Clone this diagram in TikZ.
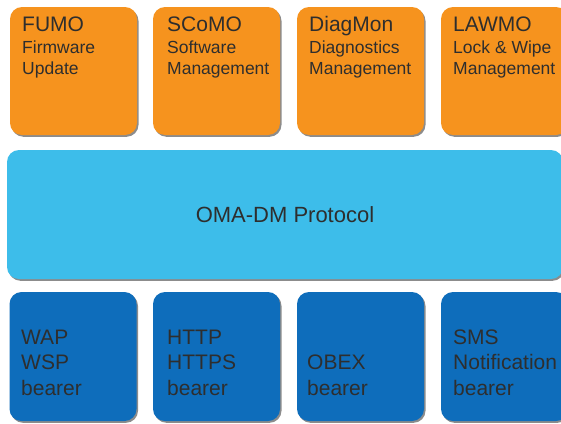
\documentclass[tikz,border=0pt]{standalone}
\usepackage{fontspec}
\setmainfont{Liberation Sans}
\usetikzlibrary{shadows}

\definecolor{modorange}{HTML}{F6931E}
\definecolor{protoblue}{HTML}{3DBDEA}
\definecolor{bearerblue}{HTML}{0E6DBB}
\definecolor{labelgray}{HTML}{2E2E2E}

\begin{document}
\begin{tikzpicture}[x=1pt, y=-1pt,
	layerbox/.style={rounded corners=12pt, inner sep=0pt, draw=none,
		drop shadow={shadow xshift=1.5pt, shadow yshift=-1.8pt, fill=black, opacity=0.45}},
	modbox/.style={layerbox, fill=modorange, minimum width=127pt, minimum height=128pt},
	bearerbox/.style={layerbox, fill=bearerblue, minimum width=127pt, minimum height=129pt},
	modtitle/.style={anchor=base west, inner sep=0pt, text=labelgray, font=\fontsize{21}{25}\selectfont},
	modtext/.style={anchor=base west, inner sep=0pt, align=left, text=labelgray, font=\fontsize{17.5}{21.5}\selectfont},
	bearertext/.style={anchor=base west, inner sep=0pt, align=left, text=labelgray, font=\fontsize{21}{25.5}\selectfont}]

	\useasboundingbox (0,0) rectangle (561,423);
	\clip (0,0) rectangle (561,423);

	%management objects
	\node[modbox] (fumo) at (73.5,71) {};
	\node[modbox] (scomo) at (216.5,71) {};
	\node[modbox] (diagmon) at (360.5,71) {};
	\node[modbox] (lawmo) at (504.5,71) {};

	\node[modtitle] (fumoTitle) at (22,31) {FUMO};
	\node[modtext] (fumoText) at (22,74.5) {Firmware\\Update};
	\node[modtitle] (scomoTitle) at (167,31) {SCoMO};
	\node[modtext] (scomoText) at (167,74.5) {Software\\Management};
	\node[modtitle] (diagmonTitle) at (309,31) {DiagMon};
	\node[modtext] (diagmonText) at (309,74.5) {Diagnostics\\Management};
	\node[modtitle] (lawmoTitle) at (453,31) {LAWMO};
	\node[modtext] (lawmoText) at (453,74.5) {Lock \& Wipe\\Management};

	%protocol layer
	\node[layerbox, fill=protoblue, minimum width=556pt, minimum height=129pt] (omadm) at (285,214.5) {};
	\node[text=labelgray, font=\fontsize{22}{26}\selectfont] (omadmText) at (omadm.center) {OMA-DM Protocol};

	%bearers
	\node[bearerbox] (wap) at (73,356.5) {};
	\node[bearerbox] (http) at (216.5,356.5) {};
	\node[bearerbox] (obex) at (360.5,356.5) {};
	\node[bearerbox] (sms) at (504.5,356.5) {};

	\node[bearertext] (wapText) at (21,395) {WAP\\WSP\\bearer};
	\node[bearertext] (httpText) at (167,395) {HTTP\\HTTPS\\bearer};
	\node[bearertext] (obexText) at (307,395) {OBEX\\bearer};
	\node[bearertext] (smsText) at (453,395) {SMS\\Notification\\bearer};
\end{tikzpicture}
\end{document}
